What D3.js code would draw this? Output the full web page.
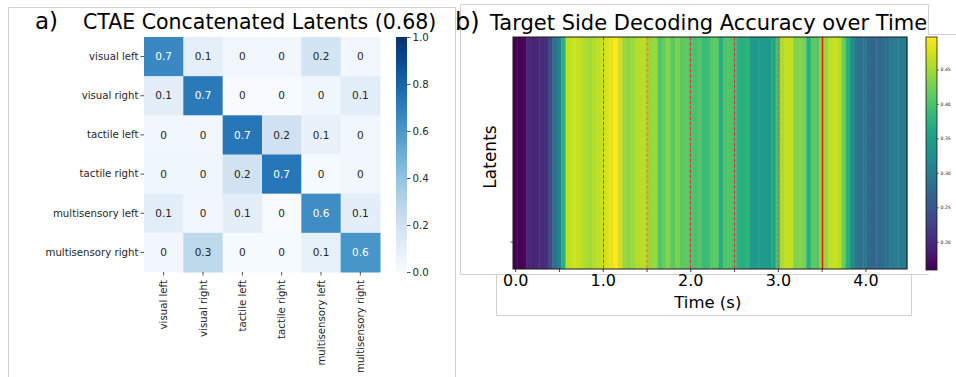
<!DOCTYPE html>
<html>
<head>
<meta charset="utf-8">
<script src="https://cdn.jsdelivr.net/npm/d3@7"></script>
<style>
  body { margin: 0; background: #fff; }
  svg { display: block; font-family: "DejaVu Sans", sans-serif; }
</style>
</head>
<body>
<svg id="chart" width="956" height="377"></svg>
<script>
// ---- data ----
const classLabels = ["visual left", "visual right", "tactile left", "tactile right", "multisensory left", "multisensory right"]

// confusion matrix rows = true class, cols = predicted class
const cmVisualLeft = [0.66, 0.09, 0.03, 0.03, 0.18, 0.03]
const cmVisualRight = [0.10, 0.72, 0.00, 0.00, 0.04, 0.11]
const cmTactileLeft = [0.03, 0.03, 0.73, 0.20, 0.07, 0.03]
const cmTactileRight = [0.04, 0.04, 0.19, 0.73, 0.01, 0.03]
const cmMultiLeft = [0.11, 0.03, 0.10, 0.00, 0.64, 0.10]
const cmMultiRight = [0.02, 0.27, 0.01, 0.01, 0.08, 0.61]
const cmRows = [cmVisualLeft, cmVisualRight, cmTactileLeft, cmTactileRight, cmMultiLeft, cmMultiRight]
const cmTicks = [0.0, 0.2, 0.4, 0.6, 0.8, 1.0]

// decoding accuracy per 50 ms time bin (90 bins, 0 .. 4.45 s)
const binWidth = 0.05
const accuracy = [
  0.160, 0.160, 0.162, 0.195, 0.192, 0.196, 0.198, 0.205, 0.235, 0.285,
  0.310, 0.375, 0.462, 0.468, 0.470, 0.465, 0.455, 0.450, 0.458, 0.465,
  0.470, 0.478, 0.485, 0.497, 0.472, 0.445, 0.440, 0.448, 0.460, 0.462,
  0.455, 0.442, 0.445, 0.405, 0.420, 0.432, 0.412, 0.430, 0.412, 0.415,
  0.402, 0.398, 0.405, 0.390, 0.392, 0.410, 0.412, 0.372, 0.402, 0.405,
  0.398, 0.375, 0.372, 0.378, 0.345, 0.342, 0.345, 0.343, 0.345, 0.360,
  0.400, 0.455, 0.468, 0.465, 0.432, 0.435, 0.428, 0.372, 0.412, 0.408,
  0.438, 0.445, 0.465, 0.470, 0.462, 0.420, 0.372, 0.322, 0.290, 0.285,
  0.288, 0.272, 0.270, 0.272, 0.278, 0.282, 0.300, 0.302, 0.298, 0.300
]
const timeTicks = [0.0, 0.5, 1.0, 1.5, 2.0, 2.5, 3.0, 3.5, 4.0]
const timeTickLabels = ["0.0", "", "1.0", "", "2.0", "", "3.0", "", "4.0"]
const accTicks = [0.20, 0.25, 0.30, 0.35, 0.40, 0.45]
const accRange = [0.159, 0.497]
const eventTimes = [0.5, 1.0, 1.5, 2.0, 2.5, 3.0, 3.5, 4.0]

const svg = d3.select("#chart")
const textColor = "#262626"

// ---- panel frames ----
svg.append("path")
  .attr("d", "M8.5,7.5 H455.5 V380 M8.5,7.5 V380")
  .attr("fill", "none").attr("stroke", "#d0d0d0")
svg.append("path")
  .attr("d", "M460.5,4.5 H928.5 V34.5 H960 M460.5,4.5 V274.5 H928.5 M496.5,274.5 V315.5 H911.5 V274.5")
  .attr("fill", "none").attr("stroke", "#d0d0d0")

// ---- a) confusion matrix ----
const left = { x0: 144, x1: 380, y0: 37, y1: 272 }
const cx = d3.scaleBand().domain(d3.range(classLabels.length)).range([left.x0, left.x1])
const cy = d3.scaleBand().domain(d3.range(classLabels.length)).range([left.y0, left.y1])
const blues = d3.scaleSequential(d3.interpolateBlues).domain([0, 1])

const cells = cmRows.flatMap((row, r) => row.map((v, c) => ({ r, c, v })))
const gA = svg.append("g")
gA.selectAll("rect.cell").data(cells).join("rect")
  .attr("class", "cell")
  .attr("x", d => cx(d.c)).attr("y", d => cy(d.r))
  .attr("width", cx.bandwidth() + 0.5).attr("height", cy.bandwidth() + 0.5)
  .attr("fill", d => blues(d.v))
const fmtCell = v => { const r = Math.round(v * 10) / 10; return r === 0 ? "0" : String(r) }
gA.selectAll("text.ann").data(cells).join("text")
  .attr("class", "ann")
  .attr("x", d => cx(d.c) + cx.bandwidth() / 2).attr("y", d => cy(d.r) + cy.bandwidth() / 2)
  .attr("dy", "0.35em").attr("text-anchor", "middle")
  .attr("font-size", 10.5)
  .attr("fill", d => d.v > 0.5 ? "#ffffff" : textColor)
  .text(d => fmtCell(d.v))

// y axis (true class)
const yAxisA = d3.axisLeft(cy).tickSize(3.5).tickPadding(2).tickFormat(i => classLabels[i])
const gyA = gA.append("g").attr("transform", `translate(${left.x0},0)`).call(yAxisA)
gyA.select(".domain").remove()
gyA.selectAll("line").attr("stroke", textColor).attr("stroke-width", 0.8)
gyA.selectAll("text").attr("font-size", 10.2).attr("fill", textColor).attr("font-family", "DejaVu Sans")

// x axis (predicted class), rotated labels
const xAxisA = d3.axisBottom(cx).tickSize(3.5).tickPadding(2).tickFormat(i => classLabels[i])
const gxA = gA.append("g").attr("transform", `translate(0,${left.y1})`).call(xAxisA)
gxA.select(".domain").remove()
gxA.selectAll("line").attr("stroke", textColor).attr("stroke-width", 0.8)
gxA.selectAll("text")
  .attr("font-size", 10.2).attr("fill", textColor).attr("font-family", "DejaVu Sans")
  .attr("text-anchor", "end").attr("dy", "0.35em")
  .attr("transform", "translate(0,8) rotate(-90)")
  .attr("x", 0).attr("y", 0)

// colorbar
const cb = { x: 396, w: 11 }
const cbScale = d3.scaleLinear().domain([0, 1]).range([left.y1, left.y0])
const defs = svg.append("defs")
const gradA = defs.append("linearGradient").attr("id", "gradA")
  .attr("x1", 0).attr("y1", 1).attr("x2", 0).attr("y2", 0)
d3.range(0, 1.0001, 0.05).forEach(t => gradA.append("stop").attr("offset", t).attr("stop-color", blues(t)))
gA.append("rect").attr("x", cb.x).attr("y", left.y0).attr("width", cb.w).attr("height", left.y1 - left.y0)
  .attr("fill", "url(#gradA)")
const gcbA = gA.append("g").attr("transform", `translate(${cb.x + cb.w},0)`)
  .call(d3.axisRight(cbScale).tickValues(cmTicks).tickFormat(d3.format(".1f")).tickSize(3.5).tickPadding(2))
gcbA.select(".domain").remove()
gcbA.selectAll("line").attr("stroke", textColor).attr("stroke-width", 0.8)
gcbA.selectAll("text").attr("font-size", 10.2).attr("fill", textColor).attr("font-family", "DejaVu Sans")

svg.append("text").attr("x", 35).attr("y", 29).attr("font-size", 23).attr("fill", "#000").text("a)")
svg.append("text").attr("x", 83).attr("y", 29).attr("font-size", 20.5).attr("fill", "#000")
  .text("CTAE Concatenated Latents (0.68)")

// ---- b) decoding accuracy over time ----
const right = { x0: 513, x1: 907, y0: 37, y1: 269 }
const tx = d3.scaleLinear()
  .domain([-binWidth / 2, (accuracy.length - 0.5) * binWidth])
  .range([right.x0, right.x1])
const viridis = d3.scaleSequential(d3.interpolateViridis).domain(accRange)
const gB = svg.append("g")
gB.selectAll("rect.bin").data(accuracy).join("rect")
  .attr("class", "bin")
  .attr("x", (d, i) => tx(i * binWidth - binWidth / 2))
  .attr("y", right.y0)
  .attr("width", (d, i) => tx((i + 1) * binWidth) - tx(i * binWidth) + 0.4)
  .attr("height", right.y1 - right.y0)
  .attr("fill", d => viridis(d))

// event markers
const eventStyle = {
  "0.5": { c: "#e0302a", w: 1, dash: "3.5,1.8" },
  "1": { c: "#d8402f", w: 1, dash: "3.5,1.8" },
  "1.5": { c: "#f08a1c", w: 1.8, dash: "3.5,1.8" },
  "2": { c: "#e0302a", w: 1, dash: "3.5,1.8" },
  "2.5": { c: "#e0302a", w: 1, dash: "3.5,1.8" },
  "3": { c: "#8a7a70", w: 1.2, dash: "3.5,1.8" },
  "3.5": { c: "#ff1010", w: 1.5, dash: "none" },
  "4": { c: "#b85a6a", w: 1, dash: "1.2,1.8" }
}
const snap = x => Math.round(x) + 0.5
gB.selectAll("line.event").data(eventTimes).join("line")
  .attr("class", "event")
  .attr("x1", d => snap(tx(d))).attr("x2", d => snap(tx(d)))
  .attr("y1", right.y0).attr("y2", right.y1)
  .style("stroke", d => eventStyle[String(d)].c)
  .style("stroke-width", d => eventStyle[String(d)].w)
  .style("stroke-dasharray", d => eventStyle[String(d)].dash)

gB.append("rect").attr("x", right.x0).attr("y", right.y0)
  .attr("width", right.x1 - right.x0).attr("height", right.y1 - right.y0)
  .attr("fill", "none").attr("stroke", "#1a1a1a").attr("stroke-width", 1)

const gxB = gB.append("g").attr("transform", `translate(0,${right.y1})`)
  .call(d3.axisBottom(tx).tickValues(timeTicks).tickFormat((d, i) => timeTickLabels[i]).tickSize(3).tickPadding(3))
gxB.select(".domain").remove()
gxB.selectAll("line").attr("stroke", "#1a1a1a").attr("stroke-width", 0.8)
gxB.selectAll("text").attr("font-size", 16).attr("fill", "#000").attr("font-family", "DejaVu Sans")

// single unlabeled y tick
gB.append("line").attr("x1", right.x0 - 2.5).attr("x2", right.x0)
  .attr("y1", 242).attr("y2", 242).attr("stroke", "#1a1a1a").attr("stroke-width", 0.8)

gB.append("text").attr("x", tx(2.2)).attr("y", 308).attr("text-anchor", "middle")
  .attr("font-size", 16.5).attr("fill", "#000").text("Time (s)")
gB.append("text").attr("transform", `translate(496,157) rotate(-90)`).attr("text-anchor", "middle")
  .attr("font-size", 17).attr("fill", "#000").text("Latents")

// colorbar b
const cbB = { x: 926, w: 11, y0: 37, y1: 270 }
const cbBScale = d3.scaleLinear().domain(accRange).range([cbB.y1, cbB.y0])
const gradB = defs.append("linearGradient").attr("id", "gradB")
  .attr("x1", 0).attr("y1", 1).attr("x2", 0).attr("y2", 0)
d3.range(0, 1.0001, 0.05).forEach(t => gradB.append("stop").attr("offset", t).attr("stop-color", d3.interpolateViridis(t)))
gB.append("rect").attr("x", cbB.x).attr("y", cbB.y0).attr("width", cbB.w).attr("height", cbB.y1 - cbB.y0)
  .attr("fill", "url(#gradB)").attr("stroke", "#1a1a1a").attr("stroke-width", 0.8)
const gcbB = gB.append("g").attr("transform", `translate(${cbB.x + cbB.w},0)`)
  .call(d3.axisRight(cbBScale).tickValues(accTicks).tickFormat(d3.format(".2f")).tickSize(2).tickPadding(1.5))
gcbB.select(".domain").remove()
gcbB.selectAll("line").attr("stroke", "#1a1a1a").attr("stroke-width", 0.6)
gcbB.selectAll("text").attr("font-size", 4.6).attr("fill", "#222").attr("font-family", "DejaVu Sans")

svg.append("text").attr("x", 455).attr("y", 30).attr("font-size", 24).attr("fill", "#000").text("b)")
svg.append("text").attr("x", 490).attr("y", 30).attr("font-size", 21).attr("fill", "#000")
  .text("Target Side Decoding Accuracy over Time")
</script>
</body>
</html>
